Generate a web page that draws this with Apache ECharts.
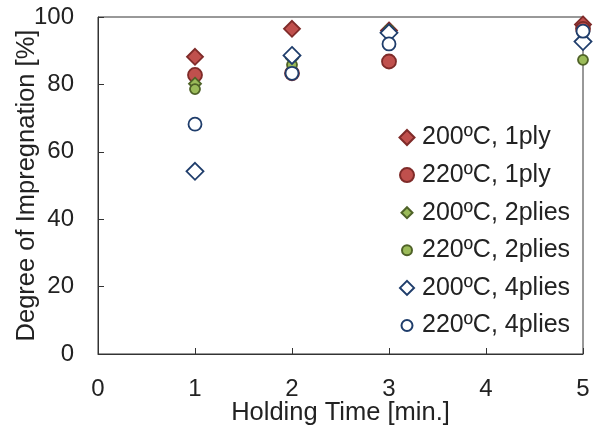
<!DOCTYPE html>
<html>
  <head>
    <meta charset="UTF-8">
    <title>Degree of Impregnation</title>
    <script src="https://cdn.jsdelivr.net/npm/echarts@6/dist/echarts.min.js"></script>
    <style>
      html, body { margin: 0; padding: 0; background: #fff; }
      #chart { width: 597px; height: 440px; }
    </style>
  </head>
  <body>
    <div id="chart"></div>
    <script type="text/javascript">
     // holding time [min.]
     var times = [1, 2, 3, 5];
     // degree of impregnation [%] per condition
     var names = ['200ºC, 1ply', '220ºC, 1ply', '200ºC, 2plies', '220ºC, 2plies', '200ºC, 4plies', '220ºC, 4plies'];
     var t200_1ply = [88.2, 96.5, 96.0, 97.8];
     var t220_1ply = [82.8, 83.3, 86.8, 96.5];
     var t200_2plies = [80.2, 87.7, 95.8, 95.5];
     var t220_2plies = [78.6, 85.8, 96.2, 87.3];
     var t200_4plies = [54.2, 88.6, 95.3, 92.7];
     var t220_4plies = [68.2, 83.3, 92.0, 95.8];
     var xTicks = [0, 1, 2, 3, 4, 5];

     var values = [t200_1ply, t220_1ply, t200_2plies, t220_2plies, t200_4plies, t220_4plies];
     var symbols = ['diamond', 'circle', 'diamond', 'circle', 'diamond', 'circle'];
     var sizes = [16, 14, 12, 10, 17, 13];
     var legendSizes = [15, 14, 11, 10, 14, 11];
     var fills = ['#c0504d', '#c0504d', '#9bbb59', '#9bbb59', '#ffffff', '#ffffff'];
     var borders = ['#7f2b29', '#7f2b29', '#4f6228', '#4f6228', '#1f3d6b', '#1f3d6b'];

     var chart = echarts.init(document.getElementById('chart'));
     var font = 'Liberation Sans, Arial, sans-serif';

     var series = names.map(function (n, i) {
       return {
         name: n,
         type: 'scatter',
         symbol: symbols[i],
         symbolSize: sizes[i],
         data: times.map(function (t, j) { return [t, values[i][j]]; }),
         itemStyle: { color: fills[i], borderColor: borders[i], borderWidth: 1.8, opacity: 1 }
       };
     });

     var legends = names.map(function (n, i) {
       return {
         data: [n],
         left: 405 - legendSizes[i] / 2 + 1,
         top: 125 + i * 37.6,
         itemWidth: legendSizes[i],
         itemHeight: legendSizes[i],
         itemGap: 0,
         padding: 0,
         selectedMode: false,
         textStyle: { fontFamily: font, fontSize: 25, color: '#222', padding: [0, 0, 0, 420 - (405 + legendSizes[i] / 2) - 5] }
       };
     });

     chart.setOption({
       animation: false,
       grid: { left: 98, right: 14, top: 17, bottom: 86, show: true, borderColor: '#333', borderWidth: 1, outerBoundsMode: 'none', containLabel: false },
       legend: legends,
       xAxis: {
         type: 'value', min: xTicks[0], max: xTicks[xTicks.length - 1], interval: 1,
         name: 'Holding Time [min.]', nameLocation: 'middle', nameGap: 46, nameMoveOverlap: false,
         nameTextStyle: { fontFamily: font, fontSize: 25.5, color: '#222' },
         axisLine: { show: true, lineStyle: { color: '#333' } },
         axisTick: { show: true, inside: true, length: 6, lineStyle: { color: '#333' } },
         axisLabel: { fontFamily: font, fontSize: 24, color: '#222', margin: 23 },
         splitLine: { show: false }
       },
       yAxis: {
         type: 'value', min: 0, max: 100, interval: 20,
         name: 'Degree of Impregnation [%]', nameLocation: 'middle', nameGap: 58, nameMoveOverlap: false,
         nameTextStyle: { fontFamily: font, fontSize: 25.5, color: '#222' },
         axisLine: { show: true, lineStyle: { color: '#333' } },
         axisTick: { show: true, inside: true, length: 6, lineStyle: { color: '#333' } },
         axisLabel: { fontFamily: font, fontSize: 24, color: '#222', margin: 24 },
         splitLine: { show: false }
       },
       series: series
     });
    </script>
  </body>
</html>
